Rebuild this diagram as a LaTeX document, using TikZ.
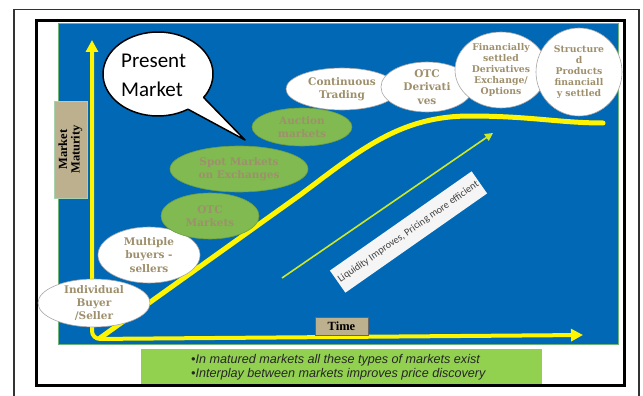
\documentclass[tikz,border=0pt]{standalone}
\usepackage{fontspec}
\setmainfont{DejaVu Serif}
\newfontfamily\calib{Carlito}
\newfontfamily\arialf{Liberation Sans}
\newfontfamily\timesf{Liberation Serif}
\usetikzlibrary{arrows.meta,calc,shapes.geometric}

\definecolor{bgblue}{RGB}{0,104,180}
\definecolor{bluebd}{RGB}{110,180,120}
\definecolor{tanbox}{RGB}{189,176,142}
\definecolor{tantext}{RGB}{158,144,108}
\definecolor{mktgreen}{RGB}{128,186,80}
\definecolor{notegreen}{RGB}{146,208,80}
\definecolor{curveyellow}{RGB}{255,245,0}
\definecolor{liqgreen}{RGB}{205,232,40}

\tikzset{
  stage/.style={ellipse, inner sep=0pt, line width=0.6pt},
  whitestage/.style={stage, fill=white, draw=gray!70},
  greenstage/.style={stage, fill=mktgreen, draw=mktgreen!85!black},
  stagetext/.style={inner sep=0pt, align=center, text=tantext,
    font=\bfseries\fontsize{10.5}{13.2}\selectfont},
  smallstagetext/.style={stagetext, font=\bfseries\fontsize{9.3}{10.8}\selectfont},
  axisline/.style={draw=curveyellow, line width=4pt, rounded corners=8pt,
    {Triangle[width=12pt,length=12pt]}-{Triangle[width=12pt,length=12pt]}},
  growthcurve/.style={draw=curveyellow, line width=5pt, line cap=round},
  liqarrow/.style={draw=liqgreen, line width=1.6pt, -{Triangle[width=8pt,length=8pt]}},
  axislabel/.style={fill=tanbox, inner sep=0pt, align=center,
    font=\timesf\bfseries\fontsize{12.5}{12.5}\selectfont},
  bubble/.style={fill=white, draw=black, line width=1.5pt, line join=round},
  bubbletext/.style={inner sep=0pt, anchor=base west, font=\calib\fontsize{21}{29}\selectfont},
}

\begin{document}
\begin{tikzpicture}[x=1pt,y=-1pt]
  % page and frames
  \useasboundingbox (0,0) rectangle (643,396);
  \fill[white] (0,0) rectangle (643,396);
  \draw[line width=1.2pt, black!80] (14,9.5) rectangle (639,402);
  \draw[line width=3pt] (36,21) rectangle (624,385);

  % blue chart area
  \filldraw[fill=bgblue, draw=bluebd, line width=0.8pt] (58,23) rectangle (618,344);

  % summary bar
  \node[fill=notegreen, minimum width=401, minimum height=35, inner sep=0pt] (note) at (341.5,366.5) {};
  \node[anchor=west, align=left, inner sep=0pt, text=black!85,
        font=\arialf\itshape\fontsize{12.6}{14}\selectfont] (notetext) at (191,367)
    {•In matured markets all these types of markets exist\\
     •Interplay between markets improves price discovery};

  % axes
  \coordinate (ytop) at (92,40);
  \coordinate (origin) at (92,339);
  \coordinate (xend) at (583,335);
  \draw[axisline] (ytop) -- (origin) -- (xend);

  % maturity curve
  \coordinate (cstart) at (100,338);
  \coordinate (cbend) at (300,195);
  \coordinate (cpeak) at (470,116);
  \coordinate (cend) at (603,123);
  \draw[growthcurve] (cstart) -- (cbend)
    .. controls (360,150) and (400,116) .. (cpeak)
    .. controls (530,116) and (560,123) .. (cend);

  % liquidity arrow and label
  \coordinate (lqstart) at (282,278);
  \coordinate (lqend) at (493,133);
  \draw[liqarrow] (lqstart) -- (lqend);
  \node[fill=gray!8, rotate=35, minimum width=173, minimum height=27, inner sep=0pt,
        text=black!75, font=\calib\fontsize{10.2}{11}\selectfont] (liq) at (408.5,232)
    {Liquidity Improves, Pricing more efficient};

  % axis labels
  \node[axislabel, draw=bluebd!60!white, line width=0.6pt, rotate=90,
        minimum width=97, minimum height=33] (maturity) at (70.5,149.5) {Market\\Maturity};
  \node[axislabel, draw=black!60, line width=0.6pt,
        minimum width=53, minimum height=18] (time) at (341.5,326) {Time};

  % market stages
  \node[whitestage, minimum width=112, minimum height=48,
        label={[stagetext]center:{Individual\\Buyer\\/Seller}}] (indiv) at (94,303) {};
  \node[whitestage, minimum width=102, minimum height=56,
        label={[stagetext]center:{Multiple\\buyers -\\sellers}}] (multi) at (149,255) {};
  \node[greenstage, minimum width=98, minimum height=46,
        label={[stagetext]center:{OTC\\Markets}}] (otcm) at (210,216) {};
  \node[greenstage, minimum width=138, minimum height=46,
        label={[stagetext]center:{Spot Markets\\on Exchanges}}] (spot) at (239,169) {};
  \node[greenstage, minimum width=100, minimum height=38,
        label={[stagetext]center:{Auction\\markets}}] (auct) at (302,127) {};
  \node[whitestage, minimum width=112, minimum height=42,
        label={[stagetext]center:{Continuous\\Trading}}] (cont) at (342,89) {};
  \node[whitestage, minimum width=92, minimum height=50,
        label={[stagetext]center:{OTC\\Derivati\\ves}}] (otcd) at (427,87) {};
  \node[whitestage, minimum width=92, minimum height=76,
        label={[smallstagetext]center:{Financially\\settled\\Derivatives\\Exchange/\\Options}}] (fin) at (501,70) {};
  \node[whitestage, minimum width=86, minimum height=88,
        label={[smallstagetext]center:{Structure\\d\\Products\\financiall\\y settled}}] (struct) at (579,72) {};

  % speech bubble
  \coordinate (bubc) at (158,74);
  \coordinate (bubtip) at (245,140);
  \draw[bubble] (bubtip) -- ($(bubc)+(57:55 and 42)$)
    arc[start angle=57, end angle=394, x radius=55, y radius=42] -- cycle;
  \node[bubbletext] (bubtxtA) at (121,67.5) {Present};
  \node[bubbletext] (bubtxtB) at (121,96.5) {Market};
\end{tikzpicture}
\end{document}
